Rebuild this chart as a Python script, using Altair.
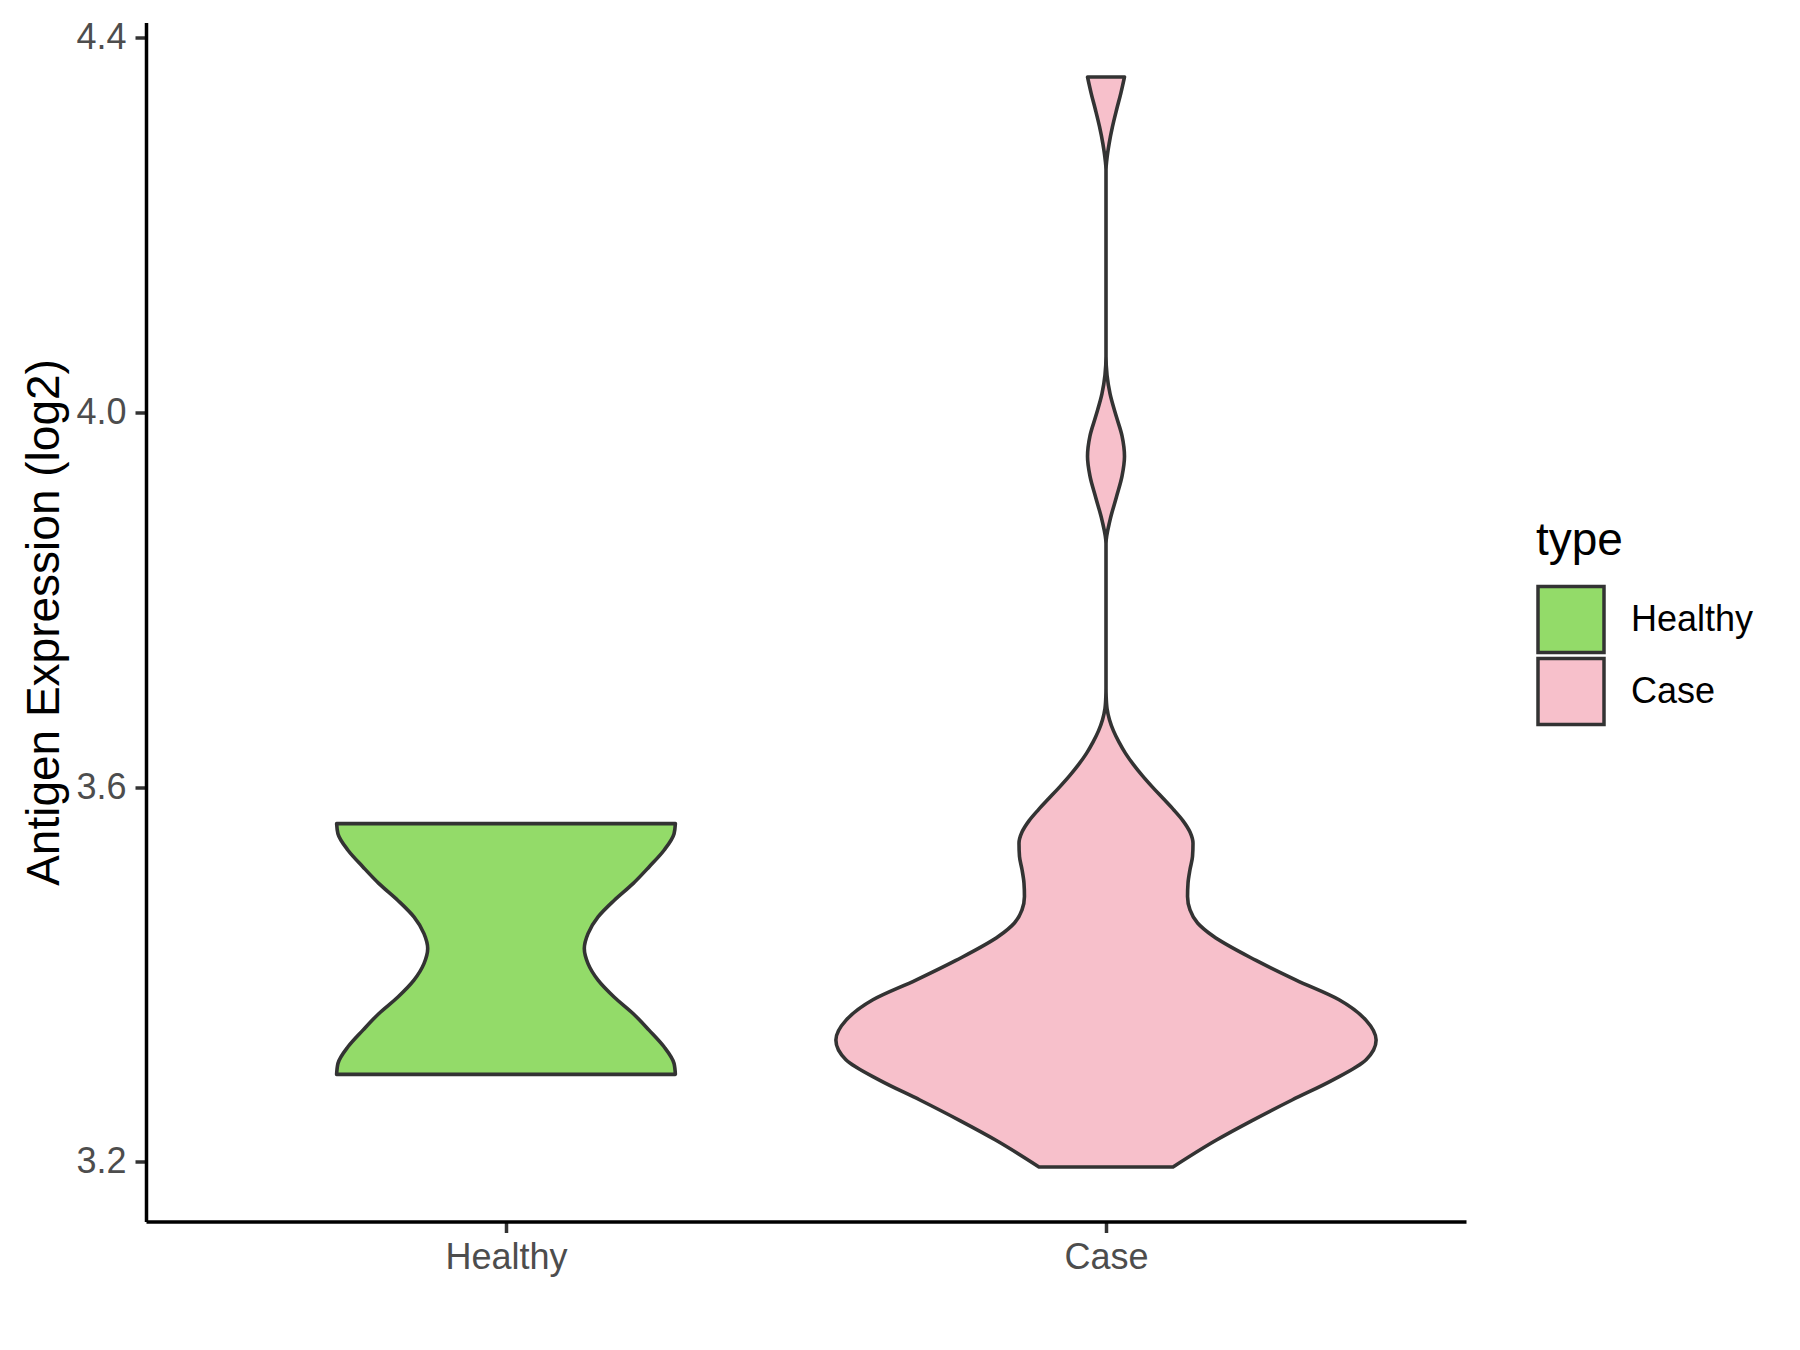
import altair as alt
import pandas as pd

# ---- data ----
categories = ["Healthy", "Case"]
category_pos = [1, 2]
fill_colors = ["#93DB69", "#F7C0CB"]

# violin outline: expression level (log2) and half-width (in category units)
healthy_v = [3.2934, 3.305, 3.3228, 3.3406, 3.3584, 3.376, 3.394, 3.4116, 3.4276,
             3.4436, 3.4614, 3.479, 3.497, 3.5148, 3.5326, 3.5502, 3.561]
healthy_hw = [0.2823, 0.2801, 0.2634, 0.2384, 0.2117, 0.1801, 0.1534, 0.1367, 0.1305,
              0.1367, 0.1534, 0.1801, 0.2117, 0.2384, 0.2634, 0.2801, 0.2823]

case_v = [3.1945, 3.223, 3.244, 3.266, 3.287, 3.309, 3.330, 3.351, 3.373, 3.394,
          3.415, 3.441, 3.455, 3.469, 3.4833, 3.4975, 3.512, 3.526, 3.540, 3.552,
          3.564, 3.576, 3.588, 3.600, 3.612, 3.624, 3.636, 3.648, 3.660, 3.672,
          3.684, 3.696, 3.706, 3.780, 3.860, 3.885, 3.910, 3.932, 3.953, 3.975,
          3.995, 4.020, 4.060, 4.160, 4.259, 4.2694, 4.2872, 4.305, 4.3228, 4.3406,
          4.358]
case_hw = [0.1117, 0.1834, 0.2434, 0.3101, 0.3768, 0.4335, 0.4502, 0.4335, 0.3885, 0.3168,
           0.2501, 0.1784, 0.1526, 0.1400, 0.1359, 0.1367, 0.1400, 0.1442, 0.1450, 0.1400,
           0.1284, 0.1125, 0.0950, 0.0775, 0.0609, 0.0458, 0.0325, 0.0217, 0.0125, 0.0058,
           0.0017, 0.0003, 0.0, 0.0, 0.0, 0.0067, 0.0175, 0.0267, 0.0308, 0.0267,
           0.0175, 0.0067, 0.0, 0.0, 0.0, 0.0013, 0.0053, 0.0108, 0.0175, 0.0247,
           0.0308]

y_ticks = [3.2, 3.6, 4.0, 4.4]
y_domain = [3.1363, 4.4162]
x_domain = [0.4, 2.6]

rows = []
for cat, pos, vs, hws in [("Healthy", 1, healthy_v, healthy_hw), ("Case", 2, case_v, case_hw)]:
    for v, hw in zip(vs, hws):
        rows.append({"type": cat, "pos": pos, "v": v, "hw": hw})
df = pd.DataFrame(rows)

FONT = "Liberation Sans"
W, H = 1320, 1199

chart = alt.Chart(df).transform_calculate(
    lo="datum.pos - datum.hw",
    hi="datum.pos + datum.hw",
).mark_area(
    orient="horizontal",
    interpolate="monotone",
    stroke="#333333",
    strokeWidth=3.6,
    strokeJoin="round",
    opacity=1,
).encode(
    y=alt.Y(
        "v:Q",
        scale=alt.Scale(domain=y_domain, nice=False, zero=False),
        axis=alt.Axis(
            values=y_ticks,
            format=".1f",
            title="Antigen Expression (log2)",
            titleFontSize=46,
            titleFont=FONT,
            titleFontWeight="normal",
            titleColor="#000000",
            titleAngle=270,
            titleBaseline="alphabetic",
            titleAlign="center",
            titleX=-88,
            titleY=H / 2,
            labelFontSize=36,
            labelFont=FONT,
            labelColor="#4D4D4D",
            labelPadding=9,
            tickSize=11,
            tickWidth=3.5,
            tickColor="#333333",
            domainColor="#000000",
            domainWidth=3.5,
            grid=False,
        ),
    ),
    x=alt.X(
        "lo:Q",
        scale=alt.Scale(domain=x_domain, nice=False, zero=False),
        axis=alt.Axis(
            values=category_pos,
            labelExpr="datum.value == 1 ? 'Healthy' : 'Case'",
            title=None,
            labelFontSize=36,
            labelFont=FONT,
            labelColor="#4D4D4D",
            labelPadding=8,
            tickSize=11,
            tickWidth=3.5,
            tickColor="#333333",
            domainColor="#000000",
            domainWidth=3.5,
            grid=False,
        ),
    ),
    x2="hi:Q",
    color=alt.Color(
        "type:N",
        scale=alt.Scale(domain=categories, range=fill_colors),
        legend=alt.Legend(
            title="type",
            orient="none",
            legendX=1390,
            legendY=496,
            padding=0,
            titleFontSize=46,
            titleFont=FONT,
            titleFontWeight="normal",
            titleColor="#000000",
            titleAnchor="start",
            titlePadding=19,
            labelFontSize=36,
            labelFont=FONT,
            labelColor="#000000",
            labelOffset=25,
            symbolType="square",
            symbolSize=4356,
            symbolStrokeColor="#333333",
            symbolStrokeWidth=3.5,
            symbolOpacity=1,
            rowPadding=0,
            clipHeight=72,
        ),
    ),
).properties(
    width=W,
    height=H,
    autosize=alt.AutoSizeParams(type="none"),
    padding={"left": 138, "top": 14.5, "right": 326, "bottom": 121},
    background="#FFFFFF",
).configure_view(
    stroke=None
)

chart.save("out.html", embed_options={"renderer": "svg", "actions": False})
